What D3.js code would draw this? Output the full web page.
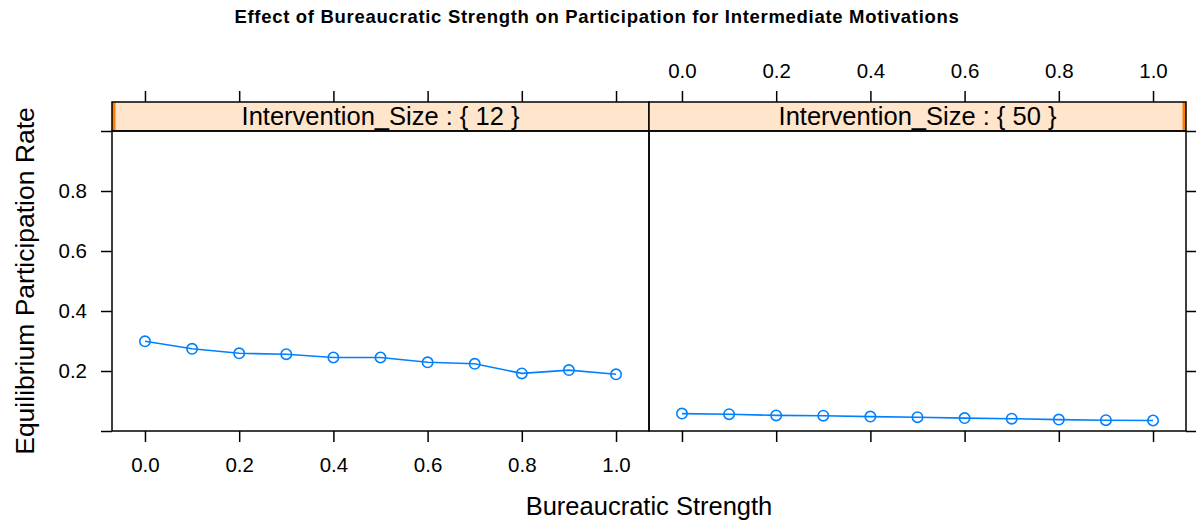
<!DOCTYPE html>
<html>
<head>
<meta charset="utf-8">
<script src="https://cdn.jsdelivr.net/npm/d3@7"></script>
<style>
  body { margin: 0; background: #fff; }
  svg { font-family: "Liberation Sans", Arial, Helvetica, sans-serif; }
</style>
</head>
<body>
<div id="chart"></div>
<script>
"use strict";
//bureaucratic strength values, same for both panels
var strength = [0, 0.1, 0.2, 0.3, 0.4, 0.5, 0.6, 0.7, 0.8, 0.9, 1.0];
var panelLabels = ["Intervention_Size : { 12 }", "Intervention_Size : { 50 }"];
var rate12 = [0.299, 0.274, 0.259, 0.256, 0.245, 0.245, 0.229, 0.224, 0.192, 0.203, 0.189];
var rate50 = [0.058, 0.056, 0.052, 0.051, 0.048, 0.046, 0.043, 0.041, 0.038, 0.036, 0.035];
var xTicks = [0, 0.2, 0.4, 0.6, 0.8, 1.0];
var yTicks = [0, 0.2, 0.4, 0.6, 0.8, 1.0];
var yLabelled = [0.2, 0.4, 0.6, 0.8];

var series = [rate12, rate50];

var w = 1196,
  h = 525,
  panelTop = 131,
  panelBottom = 431,
  stripTop = 102,
  panelW = 537,
  left = 112,
  tickLen = 11,
  tickFont = "20.5px",
  blue = "#0080ff";

var svg = d3
  .select("#chart")
  .append("svg")
  .attr("width", w)
  .attr("height", h);

var y = d3.scaleLinear().domain([0, 1]).range([panelBottom, panelTop]);

svg
  .append("text")
  .attr("x", 597)
  .attr("y", 23)
  .attr("text-anchor", "middle")
  .style("font-size", "18.5px")
  .style("letter-spacing", "0.7px")
  .style("font-weight", "bold")
  .text("Effect of Bureaucratic Strength on Participation for Intermediate Motivations");

//axis cosmetics shared by all axes
function styleAxis(a) {
  a.select(".domain").remove();
  a.selectAll("line").attr("stroke", "#000").attr("stroke-width", 1.5);
  a.selectAll("text").attr("fill", "#000").style("font-size", tickFont).attr("font-family", null);
}

series.forEach(function(vals, p) {
  var x0 = left + p * panelW;
  var x = d3.scaleLinear().domain([-0.07, 1.07]).range([x0, x0 + panelW]);
  var g = svg.append("g");

  //strip
  g.append("rect")
    .attr("x", x0)
    .attr("y", stripTop)
    .attr("width", panelW)
    .attr("height", panelTop - stripTop)
    .attr("fill", "#ffe5cc");
  g.append("rect")
    .attr("x", p === 0 ? x0 : x0 + panelW - 3.5)
    .attr("y", stripTop)
    .attr("width", 3.5)
    .attr("height", panelTop - stripTop)
    .attr("fill", "#ff7f00");
  g.append("rect")
    .attr("x", x0)
    .attr("y", stripTop)
    .attr("width", panelW)
    .attr("height", panelTop - stripTop)
    .attr("fill", "none")
    .attr("stroke", "#000")
    .attr("stroke-width", 1.5);
  g.append("text")
    .attr("x", x0 + panelW / 2)
    .attr("y", stripTop + 22.5)
    .attr("text-anchor", "middle")
    .style("font-size", "25.5px")
    .text(panelLabels[p]);

  //panel box
  g.append("rect")
    .attr("x", x0)
    .attr("y", panelTop)
    .attr("width", panelW)
    .attr("height", panelBottom - panelTop)
    .attr("fill", "none")
    .attr("stroke", "#000")
    .attr("stroke-width", 1.5);

  //bottom axis, labels only on first panel
  var bottom = d3.axisBottom(x).tickValues(xTicks).tickSize(tickLen).tickPadding(15)
    .tickFormat(p === 0 ? d3.format(".1f") : function() { return ""; });
  styleAxis(g.append("g").attr("transform", "translate(0," + panelBottom + ")").call(bottom));

  //top axis above strip, labels only on second panel
  var top = d3.axisTop(x).tickValues(xTicks).tickSize(tickLen).tickPadding(13.5)
    .tickFormat(p === 1 ? d3.format(".1f") : function() { return ""; });
  styleAxis(g.append("g").attr("transform", "translate(0," + stripTop + ")").call(top));

  //line and points
  var pts = strength.map(function(s, i) { return [s, vals[i]]; });
  g.append("path")
    .datum(pts)
    .attr("fill", "none")
    .attr("stroke", blue)
    .attr("stroke-width", 1.6)
    .attr("d", d3.line().x(function(d) { return x(d[0]); }).y(function(d) { return y(d[1]); }));
  g.selectAll("circle")
    .data(pts)
    .enter()
    .append("circle")
    .attr("cx", function(d) { return x(d[0]); })
    .attr("cy", function(d) { return y(d[1]); })
    .attr("r", 5.2)
    .attr("fill", "none")
    .attr("stroke", blue)
    .attr("stroke-width", 1.6);
});

//left axis with labels, right axis ticks only
var yl = d3.axisLeft(y).tickValues(yTicks).tickSize(tickLen).tickPadding(14)
  .tickFormat(function(d) { return yLabelled.indexOf(d) >= 0 ? d3.format(".1f")(d) : ""; });
styleAxis(svg.append("g").attr("transform", "translate(" + left + ",0)").call(yl));
var yr = d3.axisRight(y).tickValues(yTicks).tickSize(tickLen).tickFormat(function() { return ""; });
styleAxis(svg.append("g").attr("transform", "translate(" + (left + 2 * panelW) + ",0)").call(yr));

svg
  .append("text")
  .attr("x", left + panelW)
  .attr("y", 515)
  .attr("text-anchor", "middle")
  .style("font-size", "25.5px")
  .text("Bureaucratic Strength");

svg
  .append("text")
  .attr("transform", "translate(33.5," + (panelTop + panelBottom) / 2 + ") rotate(-90)")
  .attr("text-anchor", "middle")
  .style("font-size", "26.5px")
  .text("Equilibrium Participation Rate");
</script>
</body>
</html>
